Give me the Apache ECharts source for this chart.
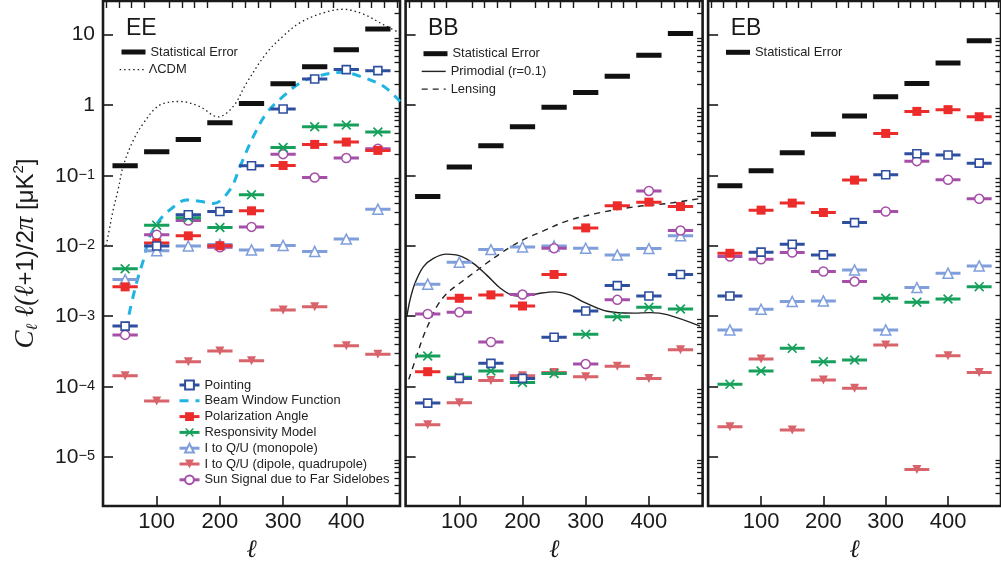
<!DOCTYPE html>
<html><head><meta charset="utf-8">
<script src="https://cdn.jsdelivr.net/npm/echarts@6/dist/echarts.min.js"></script>
<style>html,body{margin:0;padding:0;background:#fff}#c{width:1001px;height:568px}</style>
</head><body><div id="c"></div>
<script>
// ---------------- DATA ----------------
const ell = [50, 100, 150, 200, 250, 300, 350, 400, 450];
const xTickLabels = [100, 200, 300, 400];
const yTickValues = [1e-5, 1e-4, 1e-3, 1e-2, 1e-1, 1, 10];
const panelTitles = ['EE', 'BB', 'EB'];

// EE
const eeStat        = [0.137, 0.216, 0.324, 0.56, 1.05, 2.0, 3.5, 6.1, 12.0];
const eePointing    = [7.2e-4, 0.0099, 0.0275, 0.0306, 0.137, 0.877, 2.34, 3.18, 3.07];
const eePolAngle    = [2.6e-3, 0.0109, 0.0138, 0.0100, 0.0313, 0.138, 0.275, 0.297, 0.226];
const eeResponsivity= [4.7e-3, 0.0196, 0.025, 0.0181, 0.0529, 0.249, 0.49, 0.519, 0.412];
const eeMonopole    = [3.3e-3, 0.0085, 0.0099, 0.0104, 0.0087, 0.0101, 0.0083, 0.0124, 0.033];
const eeDipole      = [1.42e-4, 6.2e-5, 2.25e-4, 3.2e-4, 2.32e-4, 1.22e-3, 1.36e-3, 3.8e-4, 2.86e-4];
const eeSun         = [5.4e-4, 0.0143, 0.0228, 0.0095, 0.0185, 0.2, 0.093, 0.176, 0.239];
const lcdmEll = [20, 25, 31, 39, 47, 63, 79, 100, 120, 137, 168, 197, 221, 242, 274, 300, 327, 364, 395, 427, 459, 485];
const lcdmVal = [0.010, 0.017, 0.032, 0.063, 0.135, 0.316, 0.55, 0.93, 1.10, 1.12, 0.95, 0.676, 0.95, 2.04, 5.5, 9.5, 14.8, 20.4, 22.9, 19.5, 13.8, 10.5];
const beamEll = [50, 53, 60, 68, 79, 89, 105, 121, 147, 168, 190, 216, 232, 253, 274, 300, 327, 353, 395, 422, 459, 485];
const beamVal = [6.3e-4, 7.9e-4, 1.5e-3, 2.95e-3, 6.3e-3, 0.0135, 0.0234, 0.0324, 0.0447, 0.0427, 0.0398, 0.0624, 0.134, 0.357, 0.769, 1.32, 2.06, 2.55, 2.91, 2.55, 1.84, 1.12];

// BB
const bbStat        = [0.050, 0.131, 0.264, 0.49, 0.925, 1.50, 2.55, 5.08, 10.4];
const bbPointing    = [5.8e-5, 1.3e-4, 2.13e-4, 1.3e-4, 4.99e-4, 1.18e-3, 2.71e-3, 1.93e-3, 3.89e-3];
const bbPolAngle    = [1.62e-4, 1.79e-3, 2.0e-3, 1.39e-3, 3.9e-3, 0.0179, 0.0369, 0.0416, 0.036];
const bbResponsivity= [2.71e-4, 1.35e-4, 1.66e-4, 1.14e-4, 1.53e-4, 5.5e-4, 9.8e-4, 1.33e-3, 1.26e-3];
const bbMonopole    = [2.84e-3, 5.83e-3, 8.8e-3, 9.6e-3, 0.0099, 9.2e-3, 7.4e-3, 9.1e-3, 0.0138];
const bbDipole      = [2.85e-5, 5.86e-5, 1.21e-4, 1.42e-4, 1.58e-4, 1.37e-4, 1.93e-4, 1.3e-4, 3.33e-4];
const bbSun         = [1.07e-3, 1.13e-3, 4.28e-4, 2.02e-3, 9.2e-3, 2.08e-4, 1.7e-3, 0.060, 0.0164];
const primEll = [17, 22, 30, 43, 59, 80, 101, 122, 143, 165, 186, 202, 228, 250, 275, 297, 334, 376, 402, 429, 481];
const primVal = [9.8e-4, 1.70e-3, 2.95e-3, 5.01e-3, 6.61e-3, 7.59e-3, 7.16e-3, 5.62e-3, 3.85e-3, 2.48e-3, 1.95e-3, 1.91e-3, 2.11e-3, 2.21e-3, 2.0e-3, 1.58e-3, 1.17e-3, 1.10e-3, 1.12e-3, 1.05e-3, 7.2e-4];
const lensEll = [20, 32, 43, 54, 64, 80, 101, 122, 143, 165, 186, 207, 233, 270, 323, 376, 429, 481];
const lensVal = [1.26e-4, 2.63e-4, 5.13e-4, 8.7e-4, 1.35e-3, 2.09e-3, 2.95e-3, 4.07e-3, 5.62e-3, 7.76e-3, 0.0102, 0.0129, 0.0162, 0.0224, 0.0295, 0.0355, 0.0398, 0.0468];

// EB
const ebStat        = [0.071, 0.116, 0.209, 0.382, 0.697, 1.31, 2.01, 3.95, 8.2];
const ebPointing    = [1.93e-3, 8.1e-3, 0.0105, 7.4e-3, 0.0213, 0.102, 0.203, 0.194, 0.149];
const ebPolAngle    = [7.8e-3, 0.032, 0.0403, 0.0296, 0.0855, 0.394, 0.81, 0.857, 0.68];
const ebResponsivity= [1.07e-4, 1.66e-4, 3.48e-4, 2.25e-4, 2.38e-4, 1.79e-3, 1.57e-3, 1.75e-3, 2.62e-3];
const ebMonopole    = [6.35e-4, 1.25e-3, 1.61e-3, 1.64e-3, 4.53e-3, 6.35e-4, 2.54e-3, 4.07e-3, 5.16e-3];
const ebDipole      = [2.67e-5, 2.45e-4, 2.4e-5, 1.23e-4, 9.4e-5, 3.88e-4, 6.6e-6, 2.73e-4, 1.58e-4];
const ebSun         = [7.0e-3, 6.4e-3, 8.0e-3, 4.3e-3, 3.09e-3, 0.0306, 0.159, 0.0865, 0.0464];

// ---------------- STYLE ----------------
const F = "'Liberation Sans', Arial, Helvetica, sans-serif";
const SERIF = "'Liberation Serif', 'DejaVu Serif', serif";
const INK = '#1a1a1a';
const NOFILL = 'rgba(0,0,0,0)';
const HW = 20;                       // half-width of each bin mark (ℓ units)
const gridLeft = [103, 405.6, 708.1];
const GW = 297, GTOP = 1, GH = 505, CW = 1001;
const X_MIN = 15, X_MAX = 485, Y_MIN = 2e-6, Y_MAX = 30;

const ST = {
  stat:  {color: '#111', width: 5},
  point: {color: '#2e4f9f', symbol: 'rect', size: 8, fill: '#fff', bw: 1.6},
  pol:   {color: '#ec2b2b', symbol: 'rect', size: 9, fill: '#ec2b2b'},
  resp:  {color: '#16a05c', symbol: 'path://M0,1.2L1.2,0L5,3.8L8.8,0L10,1.2L6.2,5L10,8.8L8.8,10L5,6.2L1.2,10L0,8.8L3.8,5Z', size: 10, fill: '#16a05c'},
  mono:  {color: '#7f9edb', symbol: 'triangle', size: 10, fill: '#fff', bw: 1.5},
  dip:   {color: '#d8636b', symbol: 'triangle', size: 9, fill: '#d8636b', rotate: 180},
  sun:   {color: '#a54fa8', symbol: 'circle', size: 9, fill: '#fff', bw: 1.5}
};

const xMinor = [];
for (let v = 20; v <= 480; v += 20) if (v % 100) xMinor.push(v);
const yMinor = [];
for (let e = -6; e <= 1; e++) for (let m = 2; m <= 9; m++) {
  const v = +(m * Math.pow(10, e)).toPrecision(3);
  if (v > Y_MIN && v < Y_MAX) yMinor.push(v);
}

function binSeries(name, vals, p, st) {
  const data = [];
  ell.forEach((l, i) => {
    data.push({value: [l - HW, vals[i]], symbol: 'none'});
    data.push({value: [l, vals[i]]});
    data.push({value: [l + HW, vals[i]], symbol: 'none'});
    data.push({value: [l + HW, '-']});
  });
  return {
    type: 'line', name, xAxisIndex: 2 * p, yAxisIndex: 2 * p, data,
    symbol: st.symbol || 'none', symbolSize: st.size || 0, symbolRotate: st.rotate || 0,
    showSymbol: !!st.symbol, connectNulls: false, animation: false,
    lineStyle: {color: st.color, width: st.width || 3},
    itemStyle: st.symbol ? {color: st.fill || st.color, borderColor: st.color, borderWidth: st.bw || 0}
                         : {color: NOFILL, borderWidth: 0},
    emphasis: {disabled: true}, z: 3
  };
}
function curveSeries(name, xs, ys, p, color, width, type, smooth) {
  return {
    type: 'line', name, xAxisIndex: 2 * p, yAxisIndex: 2 * p,
    data: xs.map((x, i) => [x, ys[i]]), symbol: 'none', showSymbol: false,
    smooth: smooth, animation: false, lineStyle: {color, width, type},
    itemStyle: {color: NOFILL, borderWidth: 0},
    emphasis: {disabled: true}, z: 2
  };
}

const grid = [], xAxis = [], yAxis = [];
for (let p = 0; p < 3; p++) {
  grid.push({left: gridLeft[p], top: GTOP, right: CW - gridLeft[p] - GW, height: GH, show: true,
             borderColor: INK, borderWidth: 2.6, backgroundColor: 'transparent'});
  xAxis.push({
    gridIndex: p, type: 'value', min: X_MIN, max: X_MAX,
    axisLine: {show: false}, splitLine: {show: false},
    axisTick: {show: true, inside: true, length: 10, lineStyle: {color: INK, width: 1.6}, customValues: xTickLabels},
    axisLabel: {customValues: xTickLabels, fontSize: 22, fontFamily: F, color: INK, margin: 5},
    name: 'ℓ', nameLocation: 'middle', nameGap: 31,
    nameTextStyle: {fontSize: 25, fontFamily: SERIF, fontStyle: 'italic', color: INK}
  });
  xAxis.push({
    gridIndex: p, type: 'value', min: X_MIN, max: X_MAX,
    axisLine: {show: false}, splitLine: {show: false}, axisLabel: {show: false},
    axisTick: {show: true, inside: true, length: 7, lineStyle: {color: INK, width: 1.4}, customValues: xMinor}
  });
  const yMain = {
    gridIndex: p, type: 'log', logBase: 10, min: Y_MIN, max: Y_MAX,
    axisLine: {show: false}, splitLine: {show: false},
    axisTick: {show: true, inside: true, length: 10, lineStyle: {color: INK, width: 1.6}, customValues: yTickValues},
    axisLabel: {
      show: p === 0, customValues: yTickValues, margin: 8, color: INK, fontFamily: F, fontSize: 21,
      formatter: v => {
        const n = Math.round(Math.log10(v));
        if (n === 1) return '{b|10}';
        if (n === 0) return '{b|1}';
        return '{e|10}{s|\u2212' + (-n) + '}';
      },
      rich: {
        b: {fontSize: 21, fontFamily: F, color: INK},
        e: {fontSize: 21, fontFamily: F, color: INK, lineHeight: 22, padding: [8, 0, 0, 0], verticalAlign: 'bottom'},
        s: {fontSize: 14.5, fontFamily: F, color: INK, lineHeight: 15, padding: [3, 0, 0, 0], verticalAlign: 'top'}
      }
    }
  };
  if (p === 0) {
    yMain.name = '{i|C}{sub|ℓ}{i| ℓ(ℓ}{s|+1)/2}{i|π}{s| [μK}{sup|2}{s|]}';
    yMain.nameLocation = 'middle';
    yMain.nameRotate = 90;
    yMain.nameGap = 62;
    yMain.nameTextStyle = {
      fontSize: 24, fontFamily: F, color: INK,
      rich: {
        i: {fontFamily: SERIF, fontStyle: 'italic', fontSize: 27, color: INK, lineHeight: 30},
        sub: {fontFamily: SERIF, fontStyle: 'italic', fontSize: 16, color: INK, lineHeight: 17, verticalAlign: 'bottom'},
        s: {fontFamily: F, fontSize: 24, color: INK, lineHeight: 30},
        sup: {fontFamily: F, fontSize: 15, color: INK, lineHeight: 15, verticalAlign: 'top'}
      }
    };
  }
  yAxis.push(yMain);
  yAxis.push({
    gridIndex: p, type: 'log', logBase: 10, min: Y_MIN, max: Y_MAX,
    axisLine: {show: false}, splitLine: {show: false}, axisLabel: {show: false},
    axisTick: {show: true, inside: true, length: 5.5, lineStyle: {color: INK, width: 1.3}, customValues: yMinor}
  });
}

const series = [
  // EE
  binSeries('Statistical Error', eeStat, 0, ST.stat),
  curveSeries('ΛCDM', lcdmEll, lcdmVal, 0, '#222', 1.3, [1.5, 3], 0.35),
  curveSeries('Beam Window Function', beamEll, beamVal, 0, '#1fb4e4', 3, [9, 7], 0.35),
  binSeries('I to Q/U (dipole, quadrupole)', eeDipole, 0, ST.dip),
  binSeries('I to Q/U (monopole)', eeMonopole, 0, ST.mono),
  binSeries('Sun Signal due to Far Sidelobes', eeSun, 0, ST.sun),
  binSeries('Polarization Angle', eePolAngle, 0, ST.pol),
  binSeries('Responsivity Model', eeResponsivity, 0, ST.resp),
  binSeries('Pointing', eePointing, 0, ST.point),
  // BB
  binSeries('Statistical Error', bbStat, 1, ST.stat),
  curveSeries('Primodial (r=0.1)', primEll, primVal, 1, '#222', 1.4, 'solid', 0.35),
  curveSeries('Lensing', lensEll, lensVal, 1, '#222', 1.4, [6, 5], 0.35),
  binSeries('I to Q/U (dipole, quadrupole)', bbDipole, 1, ST.dip),
  binSeries('I to Q/U (monopole)', bbMonopole, 1, ST.mono),
  binSeries('Sun Signal due to Far Sidelobes', bbSun, 1, ST.sun),
  binSeries('Polarization Angle', bbPolAngle, 1, ST.pol),
  binSeries('Responsivity Model', bbResponsivity, 1, ST.resp),
  binSeries('Pointing', bbPointing, 1, ST.point),
  // EB
  binSeries('Statistical Error', ebStat, 2, ST.stat),
  binSeries('I to Q/U (dipole, quadrupole)', ebDipole, 2, ST.dip),
  binSeries('I to Q/U (monopole)', ebMonopole, 2, ST.mono),
  binSeries('Sun Signal due to Far Sidelobes', ebSun, 2, ST.sun),
  binSeries('Polarization Angle', ebPolAngle, 2, ST.pol),
  binSeries('Responsivity Model', ebResponsivity, 2, ST.resp),
  binSeries('Pointing', ebPointing, 2, ST.point)
];

const legendText = {fontSize: 12.9, fontFamily: F, color: '#222', lineHeight: 14};
function legendBox(names, left, top, itemWidth, gap, lineWidth) {
  return {data: names, left, top, orient: 'vertical', padding: 0, itemWidth, itemHeight: 11,
          itemGap: gap, selectedMode: false, textStyle: legendText, lineStyle: {width: lineWidth}};
}
const ROW = 17.7;
const legend = [
  legendBox(['Statistical Error'], 119, 45, 24, 0, 5),
  legendBox(['ΛCDM'], 119, 45 + ROW, 24, 0, 1.3),
  legendBox(['Pointing', 'Beam Window Function', 'Polarization Angle', 'Responsivity Model',
             'I to Q/U (monopole)', 'I to Q/U (dipole, quadrupole)', 'Sun Signal due to Far Sidelobes'], 178, 378, 20, 1.8, 3),
  legendBox(['Statistical Error'], 421, 46.7, 24, 0, 5),
  legendBox(['Primodial (r=0.1)'], 421, 46.7 + ROW, 24, 0, 1.4),
  legendBox(['Lensing'], 421, 46.7 + 2 * ROW, 24, 0, 1.4),
  legendBox(['Statistical Error'], 723.5, 45.3, 24, 0, 5)
];

const titleX = [126, 428, 730.7];
const graphic = panelTitles.map((t, i) => ({
  type: 'text', x: titleX[i], y: 29, silent: true,
  style: {text: t, font: '23px ' + F, fill: INK, verticalAlign: 'middle', align: 'left'}
}));

const chart = echarts.init(document.getElementById('c'), null, {renderer: 'canvas'});
chart.setOption({animation: false, backgroundColor: '#fff', grid, xAxis, yAxis, series, legend, graphic});
</script>
</body></html>
